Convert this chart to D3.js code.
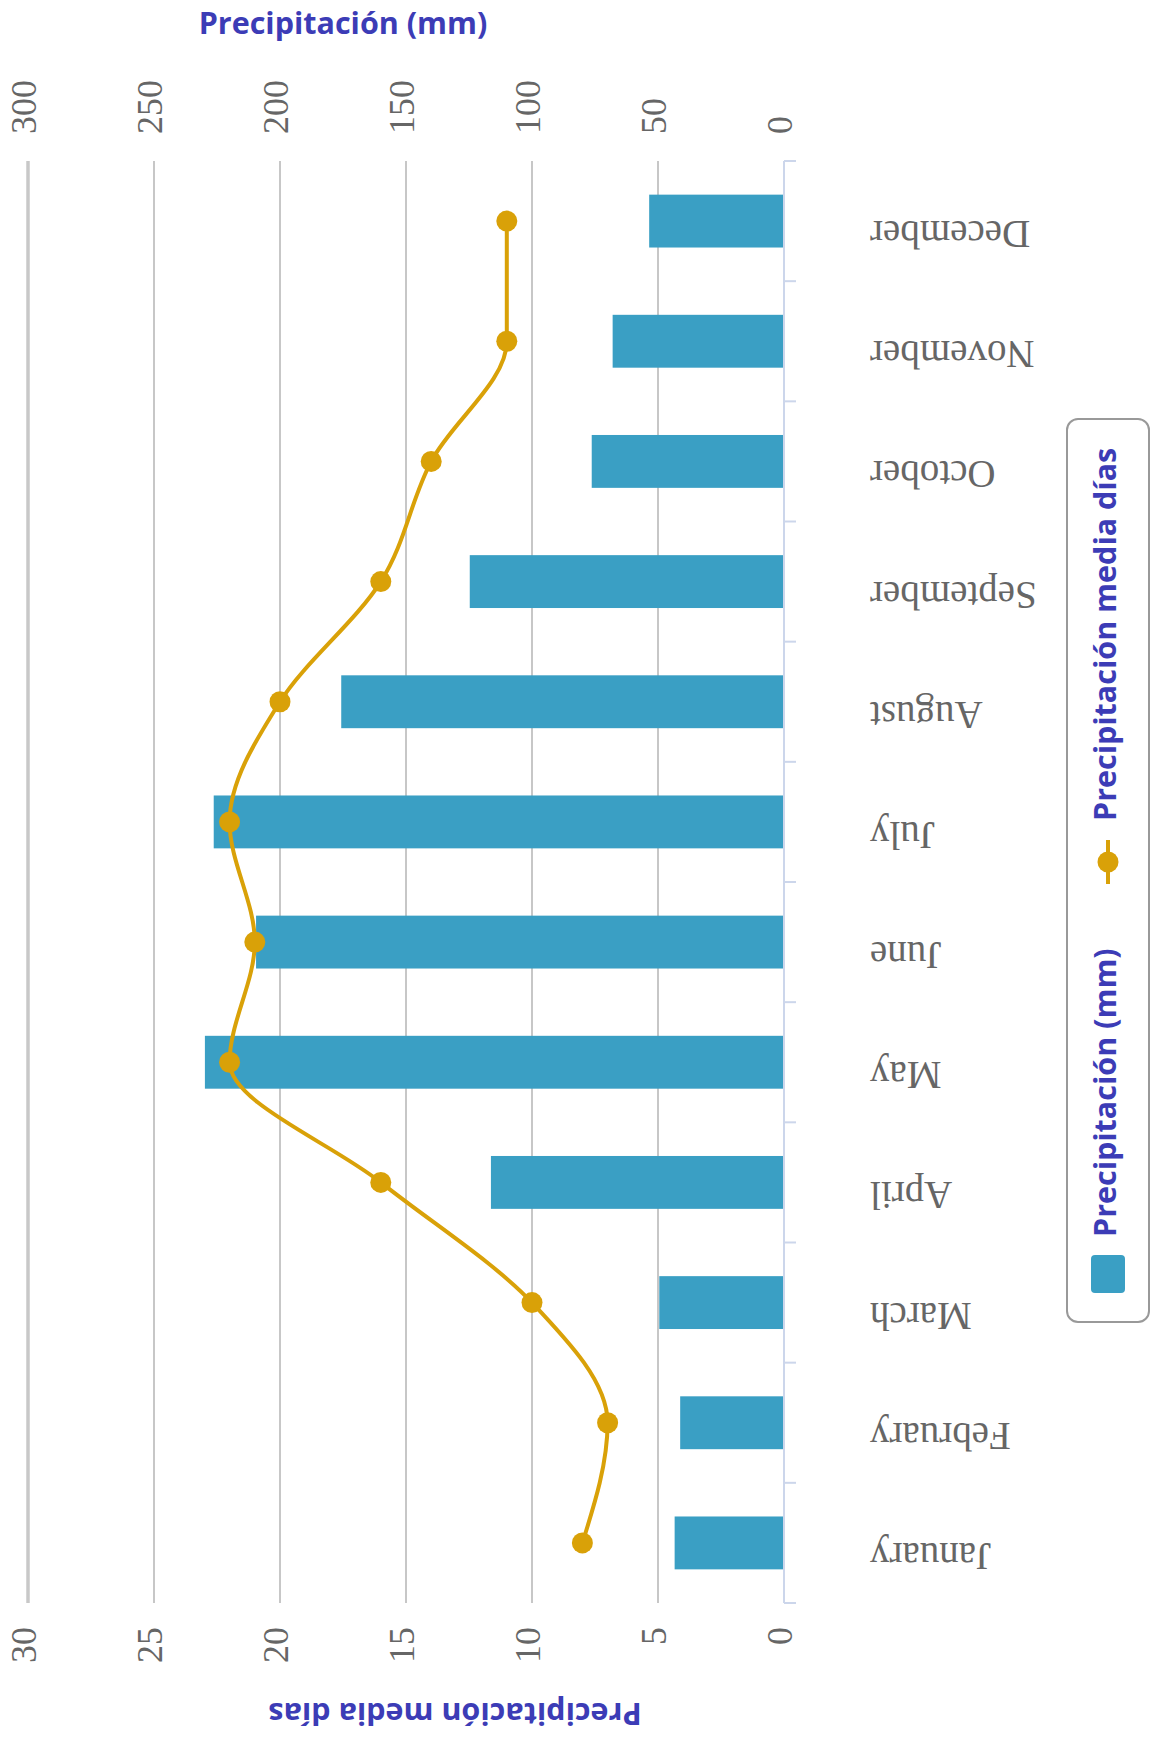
<!DOCTYPE html>
<html>
<head>
<meta charset="utf-8">
<script src="https://cdn.jsdelivr.net/npm/d3@7"></script>
<style>
  html, body { margin: 0; padding: 0; background: #fff; }
  svg { display: block; }
</style>
</head>
<body>
<svg id="chart" width="1151" height="1737"></svg>
<script>
// Monthly precipitation: total (mm) as bars, average rainy days as a spline
const months = ["January", "February", "March", "April", "May", "June",
                "July", "August", "September", "October", "November", "December"];
const rainMm = [43.4, 41.2, 49.5, 116.3, 229.8, 209.5, 226.3, 175.7, 124.7, 76.3, 68, 53.5];
const rainDays = [8, 7, 10, 16, 22, 21, 22, 20, 16, 14, 11, 11];
const mmTicks = [0, 50, 100, 150, 200, 250, 300];
const dayTicks = [0, 5, 10, 15, 20, 25, 30];
const mmTitle = "Precipitación (mm)";
const daysTitle = "Precipitación media días";

const W = 1151, H = 1737;
const BAR = "#3a9fc4", LINE = "#d9a108", TITLE = "#3c3cb6", LABEL = "#666";
const SANS = "'Open Sans', sans-serif", SERIF = "'Liberation Serif', serif";

const svg = d3.select("#chart");
svg.append("rect").attr("width", W).attr("height", H).attr("fill", "#fff");

// The chart is laid out as a column chart on a (H x W) canvas, then turned
// a quarter turn counter-clockwise onto the page.
const g = svg.append("g").attr("transform", `translate(0,${H}) rotate(-90)`);

const x = d3.scaleBand().domain(months).range([134, 1576]).padding(0);
const yMm = d3.scaleLinear().domain([0, 300]).range([784, 28]);
const yDays = d3.scaleLinear().domain([0, 30]).range([784, 28]);

// grid lines
g.append("g").selectAll("line")
  .data(mmTicks.filter(t => t > 0))
  .join("line")
  .attr("x1", x.range()[0]).attr("x2", x.range()[1])
  .attr("y1", d => yMm(d)).attr("y2", d => yMm(d))
  .attr("stroke", d => d === 300 ? "#c8c8c8" : "#b4b4b4")
  .attr("stroke-width", d => d === 300 ? 3.5 : 1.5);

// bars
const bw = x.bandwidth() * 0.44;
g.append("g").selectAll("rect")
  .data(months)
  .join("rect")
  .attr("x", (d, i) => x(d) + (x.bandwidth() - bw) / 2)
  .attr("width", bw)
  .attr("y", (d, i) => yMm(rainMm[i]))
  .attr("height", (d, i) => yMm(0) - yMm(rainMm[i]))
  .attr("fill", BAR);

// category axis line and tick marks at band edges
const axisG = g.append("g");
axisG.append("line")
  .attr("x1", x.range()[0]).attr("x2", x.range()[1])
  .attr("y1", yMm(0)).attr("y2", yMm(0))
  .attr("stroke", "#ccd6eb").attr("stroke-width", 2);
const edges = months.map(m => x(m)).concat([x.range()[1]]);
axisG.selectAll("line.tick")
  .data(edges)
  .join("line")
  .attr("class", "tick")
  .attr("x1", d => d).attr("x2", d => d)
  .attr("y1", yMm(0)).attr("y2", yMm(0) + 12)
  .attr("stroke", "#ccd6eb").attr("stroke-width", 2);

// category labels
g.append("g").selectAll("text")
  .data(months)
  .join("text")
  .attr("transform", d => `translate(${x(d) + x.bandwidth() / 2 - 9},870) rotate(-90)`)
  .attr("text-anchor", "end")
  .attr("dominant-baseline", "middle")
  .attr("font-family", SERIF)
  .attr("font-size", 39)
  .attr("fill", LABEL)
  .text(d => d);

// value axis labels: days at the start of the category range, mm at its end
g.append("g").selectAll("text")
  .data(dayTicks)
  .join("text")
  .attr("x", x.range()[0] - 24)
  .attr("y", d => yDays(d))
  .attr("text-anchor", "end")
  .attr("dominant-baseline", "middle")
  .attr("font-family", SERIF)
  .attr("font-size", 36)
  .attr("fill", LABEL)
  .text(d => d);

g.append("g").selectAll("text")
  .data(mmTicks)
  .join("text")
  .attr("x", x.range()[1] + 27)
  .attr("y", d => yMm(d))
  .attr("text-anchor", "start")
  .attr("dominant-baseline", "middle")
  .attr("font-family", SERIF)
  .attr("font-size", 36)
  .attr("fill", LABEL)
  .text(d => d);

// axis titles
g.append("text")
  .attr("transform", `translate(26,455) rotate(-90)`)
  .attr("text-anchor", "middle")
  .attr("dominant-baseline", "middle")
  .attr("font-family", SANS)
  .attr("font-weight", 700)
  .attr("font-size", 30.5)
  .attr("fill", TITLE)
  .text(daysTitle);

g.append("text")
  .attr("transform", `translate(1711,343) rotate(90)`)
  .attr("text-anchor", "middle")
  .attr("dominant-baseline", "middle")
  .attr("font-family", SANS)
  .attr("font-weight", 700)
  .attr("font-size", 30.5)
  .attr("fill", TITLE)
  .text(mmTitle);

// spline for average rainy days
const pts = months.map((m, i) => [x(m) + x.bandwidth() / 2, yDays(rainDays[i])]);
g.append("path")
  .attr("d", d3.line().curve(d3.curveMonotoneX)(pts))
  .attr("fill", "none")
  .attr("stroke", LINE)
  .attr("stroke-width", 4);
g.append("g").selectAll("circle")
  .data(pts)
  .join("circle")
  .attr("cx", d => d[0]).attr("cy", d => d[1])
  .attr("r", 10.5)
  .attr("fill", LINE);

// legend
const lg = g.append("g");
lg.append("rect")
  .attr("x", 415).attr("y", 1067)
  .attr("width", 903).attr("height", 82)
  .attr("rx", 11)
  .attr("fill", "#fff")
  .attr("stroke", "#999").attr("stroke-width", 2);
const ly = 1108;
lg.append("rect")
  .attr("x", 444).attr("y", ly - 17)
  .attr("width", 38).attr("height", 34)
  .attr("rx", 4)
  .attr("fill", BAR);
lg.append("text")
  .attr("x", 500).attr("y", ly)
  .attr("dominant-baseline", "middle")
  .attr("font-family", SANS)
  .attr("font-weight", 700)
  .attr("font-size", 30.5)
  .attr("fill", TITLE)
  .text(mmTitle);
lg.append("line")
  .attr("x1", 853).attr("x2", 897)
  .attr("y1", ly).attr("y2", ly)
  .attr("stroke", LINE).attr("stroke-width", 4);
lg.append("circle")
  .attr("cx", 875).attr("cy", ly).attr("r", 10.5)
  .attr("fill", LINE);
lg.append("text")
  .attr("x", 916).attr("y", ly)
  .attr("dominant-baseline", "middle")
  .attr("font-family", SANS)
  .attr("font-weight", 700)
  .attr("font-size", 30.5)
  .attr("fill", TITLE)
  .text(daysTitle);
</script>
</body>
</html>
